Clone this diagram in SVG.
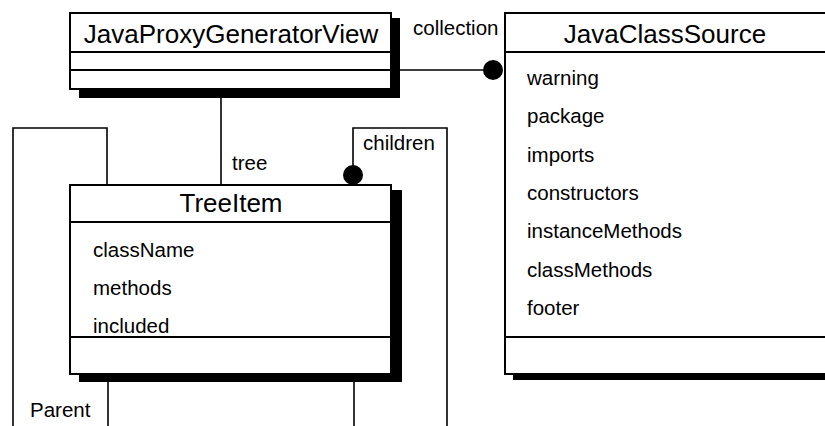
<svg xmlns="http://www.w3.org/2000/svg" width="825" height="426" viewBox="0 0 825 426">
<style>
.box{fill:#fff;stroke:#000;stroke-width:2}
.div{stroke:#000;stroke-width:2}
.sh{fill:#000}
.con{fill:none;stroke:#000;stroke-width:1.6}
.dot{fill:#000}
.hd{font-family:"Liberation Sans",Arial,sans-serif;font-size:26px;fill:#000;text-anchor:middle}
.at{font-family:"Liberation Sans",Arial,sans-serif;font-size:20.5px;fill:#000}
</style>
<rect width="825" height="426" fill="#fff"/>
<g id="connectors">
<path class="con" d="M221,89 V185"/>
<path class="con" d="M391,70 H493"/>
<circle class="dot" cx="493" cy="70" r="10"/>
<path class="con" d="M353,175 V128 H447 V426"/>
<circle class="dot" cx="353" cy="175" r="10"/>
<path class="con" d="M354,382 V426"/>
<path class="con" d="M107,185 V128 H13 V426"/>
<path class="con" d="M108,382 V426"/>
<text class="at" x="232" y="170">tree</text>
<text class="at" x="363" y="150">children</text>
<text class="at" x="413" y="35">collection</text>
<text class="at" x="30" y="417">Parent</text>
</g>
<g id="JavaProxyGeneratorView">
<rect class="sh" x="79" y="18" width="321" height="80"/>
<rect class="box" x="70" y="13" width="321" height="76"/>
<line class="div" x1="70" y1="52" x2="391" y2="52"/>
<line class="div" x1="70" y1="70" x2="391" y2="70"/>
<text class="hd" x="231" y="43">JavaProxyGeneratorView</text>
</g>
<g id="TreeItem">
<polygon class="sh" points="391,190 402,190 402,382 79,382 79,374 391,374"/>
<rect class="box" x="70" y="185" width="321" height="189"/>
<line class="div" x1="70" y1="222" x2="391" y2="222"/>
<line class="div" x1="70" y1="337" x2="391" y2="337"/>
<text class="hd" x="231" y="212">TreeItem</text>
<text class="at" x="93" y="257">className</text>
<text class="at" x="93" y="295">methods</text>
<text class="at" x="93" y="333">included</text>
</g>
<g id="JavaClassSource">
<rect class="sh" x="513" y="18" width="330" height="362"/>
<rect class="box" x="505" y="13" width="330" height="361"/>
<line class="div" x1="505" y1="52" x2="835" y2="52"/>
<line class="div" x1="505" y1="337" x2="835" y2="337"/>
<text class="hd" x="665" y="43">JavaClassSource</text>
<text class="at" x="527" y="85">warning</text>
<text class="at" x="527" y="123">package</text>
<text class="at" x="527" y="162">imports</text>
<text class="at" x="527" y="200">constructors</text>
<text class="at" x="527" y="238">instanceMethods</text>
<text class="at" x="527" y="277">classMethods</text>
<text class="at" x="527" y="315">footer</text>
</g>
</svg>
